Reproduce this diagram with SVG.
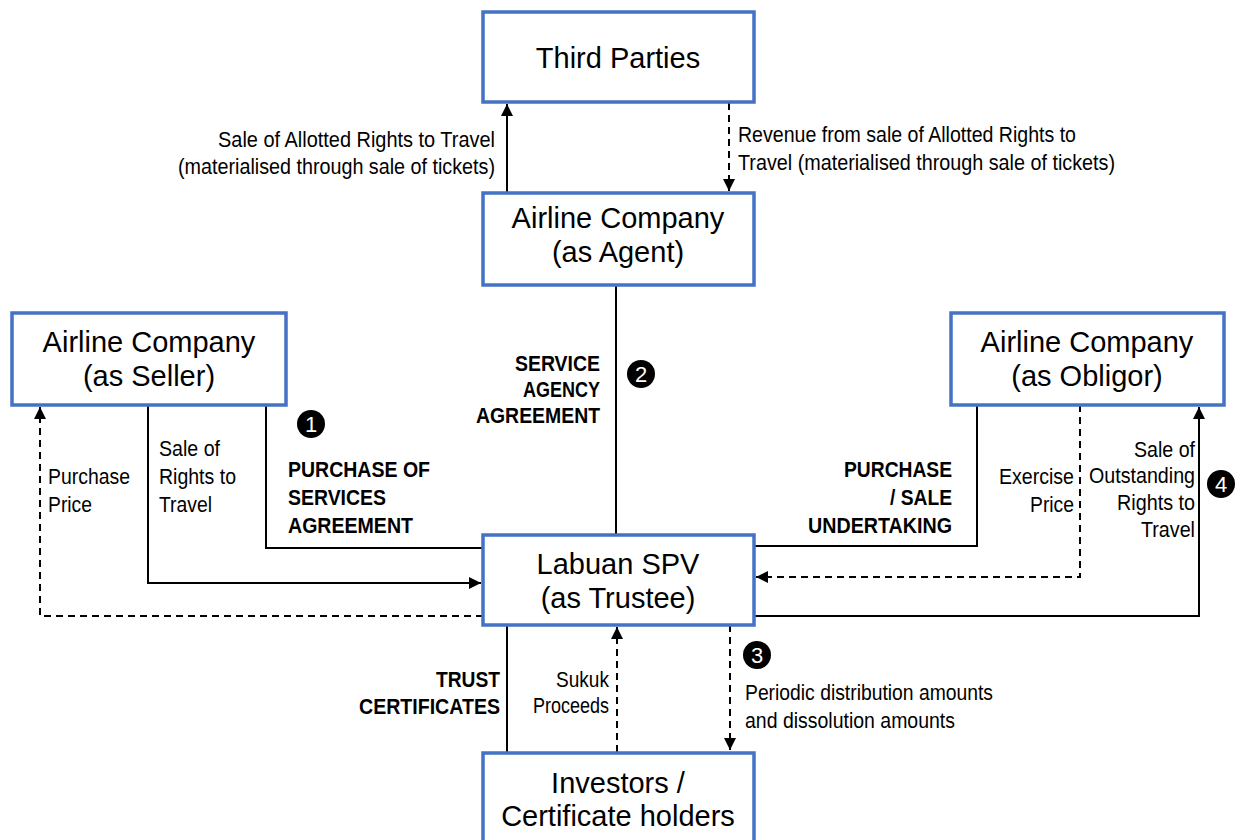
<svg xmlns="http://www.w3.org/2000/svg" width="1235" height="840" viewBox="0 0 1235 840">
<style>
.box{fill:#fff;stroke:#4472C4;stroke-width:3.5}
.big{font-family:"Liberation Sans",Arial,sans-serif;font-size:29px;fill:#000;text-anchor:middle}
.lbl{font-family:"Liberation Sans",Arial,sans-serif;font-size:22px;fill:#000}
.b{font-weight:bold}
.end{text-anchor:end}
.ln{fill:none;stroke:#000;stroke-width:2}
.dash{stroke-dasharray:7 5}
.num{font-family:"Liberation Sans",Arial,sans-serif;font-size:22px;fill:#fff;text-anchor:middle}
</style>
<defs>
<marker id="ah" viewBox="0 0 12 12" refX="12" refY="6" markerWidth="12" markerHeight="12" markerUnits="userSpaceOnUse" orient="auto">
<path d="M0,0 L12,6 L0,12 Z" fill="#000"/>
</marker>
</defs>
<rect width="1235" height="840" fill="#fff"/>
<g id="connectors">
<path class="ln" d="M507,193 V104" marker-end="url(#ah)"/>
<path class="ln dash" d="M729,103 V191" marker-end="url(#ah)"/>
<path class="ln" d="M616,285 V535"/>
<path class="ln dash" d="M483,616 H40 V407" marker-end="url(#ah)"/>
<path class="ln" d="M148,405 V583 H481" marker-end="url(#ah)"/>
<path class="ln" d="M266,405 V548 H483"/>
<path class="ln" d="M977,405 V546 H754"/>
<path class="ln dash" d="M1080,405 V577 H756" marker-end="url(#ah)"/>
<path class="ln" d="M754,616 H1199 V407" marker-end="url(#ah)"/>
<path class="ln" d="M507,625 V752"/>
<path class="ln dash" d="M617,752 V627" marker-end="url(#ah)"/>
<path class="ln dash" d="M730,625 V750" marker-end="url(#ah)"/>
</g>
<g id="third-parties">
<rect class="box" x="483" y="12" width="271" height="90"/>
<text class="big" x="618" y="68">Third Parties</text>
</g>
<g id="airline-agent">
<rect class="box" x="483" y="193" width="271" height="92"/>
<text class="big" x="618" y="228">Airline Company</text>
<text class="big" x="618" y="262">(as Agent)</text>
</g>
<g id="airline-seller">
<rect class="box" x="12" y="313" width="274" height="92"/>
<text class="big" x="149" y="352">Airline Company</text>
<text class="big" x="149" y="386">(as Seller)</text>
</g>
<g id="airline-obligor">
<rect class="box" x="951" y="313" width="273" height="92"/>
<text class="big" x="1087" y="352">Airline Company</text>
<text class="big" x="1087" y="386">(as Obligor)</text>
</g>
<g id="labuan-spv">
<rect class="box" x="483" y="535" width="271" height="90"/>
<text class="big" x="618" y="574">Labuan SPV</text>
<text class="big" x="618" y="608">(as Trustee)</text>
</g>
<g id="investors">
<rect class="box" x="483" y="753" width="271" height="100"/>
<text class="big" x="618" y="793">Investors /</text>
<text class="big" x="618" y="826">Certificate holders</text>
</g>
<g id="labels">
<text class="lbl end" x="495" y="147" textLength="277" lengthAdjust="spacingAndGlyphs">Sale of Allotted Rights to Travel</text>
<text class="lbl end" x="495" y="174" textLength="317" lengthAdjust="spacingAndGlyphs">(materialised through sale of tickets)</text>
<text class="lbl" x="738" y="142" textLength="338" lengthAdjust="spacingAndGlyphs">Revenue from sale of Allotted Rights to</text>
<text class="lbl" x="738" y="170" textLength="377" lengthAdjust="spacingAndGlyphs">Travel (materialised through sale of tickets)</text>
<text class="lbl b end" x="600" y="371" textLength="85" lengthAdjust="spacingAndGlyphs">SERVICE</text>
<text class="lbl b end" x="600" y="397" textLength="77" lengthAdjust="spacingAndGlyphs">AGENCY</text>
<text class="lbl b end" x="600" y="423" textLength="124" lengthAdjust="spacingAndGlyphs">AGREEMENT</text>
<text class="lbl b" x="288" y="477" textLength="142" lengthAdjust="spacingAndGlyphs">PURCHASE OF</text>
<text class="lbl b" x="288" y="505" textLength="98" lengthAdjust="spacingAndGlyphs">SERVICES</text>
<text class="lbl b" x="288" y="533" textLength="125" lengthAdjust="spacingAndGlyphs">AGREEMENT</text>
<text class="lbl" x="48" y="484" textLength="82" lengthAdjust="spacingAndGlyphs">Purchase</text>
<text class="lbl" x="48" y="512" textLength="44" lengthAdjust="spacingAndGlyphs">Price</text>
<text class="lbl" x="159" y="456" textLength="61" lengthAdjust="spacingAndGlyphs">Sale of</text>
<text class="lbl" x="159" y="484" textLength="77" lengthAdjust="spacingAndGlyphs">Rights to</text>
<text class="lbl" x="159" y="512" textLength="53" lengthAdjust="spacingAndGlyphs">Travel</text>
<text class="lbl b end" x="952" y="477" textLength="108" lengthAdjust="spacingAndGlyphs">PURCHASE</text>
<text class="lbl b end" x="952" y="505" textLength="62" lengthAdjust="spacingAndGlyphs">/ SALE</text>
<text class="lbl b end" x="952" y="533" textLength="144" lengthAdjust="spacingAndGlyphs">UNDERTAKING</text>
<text class="lbl end" x="1074" y="484" textLength="75" lengthAdjust="spacingAndGlyphs">Exercise</text>
<text class="lbl end" x="1074" y="512" textLength="44" lengthAdjust="spacingAndGlyphs">Price</text>
<text class="lbl end" x="1195" y="457" textLength="61" lengthAdjust="spacingAndGlyphs">Sale of</text>
<text class="lbl end" x="1195" y="483" textLength="106" lengthAdjust="spacingAndGlyphs">Outstanding</text>
<text class="lbl end" x="1195" y="510" textLength="78" lengthAdjust="spacingAndGlyphs">Rights to</text>
<text class="lbl end" x="1195" y="537" textLength="54" lengthAdjust="spacingAndGlyphs">Travel</text>
<text class="lbl b end" x="500" y="687" textLength="64" lengthAdjust="spacingAndGlyphs">TRUST</text>
<text class="lbl b end" x="500" y="714" textLength="141" lengthAdjust="spacingAndGlyphs">CERTIFICATES</text>
<text class="lbl end" x="609" y="687" textLength="53" lengthAdjust="spacingAndGlyphs">Sukuk</text>
<text class="lbl end" x="609" y="713" textLength="76" lengthAdjust="spacingAndGlyphs">Proceeds</text>
<text class="lbl" x="745" y="700" textLength="248" lengthAdjust="spacingAndGlyphs">Periodic distribution amounts</text>
<text class="lbl" x="745" y="728" textLength="210" lengthAdjust="spacingAndGlyphs">and dissolution amounts</text>
</g>
<g id="badges">
<circle cx="311" cy="424" r="14" fill="#000"/><text class="num" x="311" y="432">1</text>
<circle cx="641" cy="374" r="14" fill="#000"/><text class="num" x="641" y="382">2</text>
<circle cx="757" cy="655" r="14" fill="#000"/><text class="num" x="757" y="663">3</text>
<circle cx="1221" cy="484" r="14" fill="#000"/><text class="num" x="1221" y="492">4</text>
</g>
</svg>
